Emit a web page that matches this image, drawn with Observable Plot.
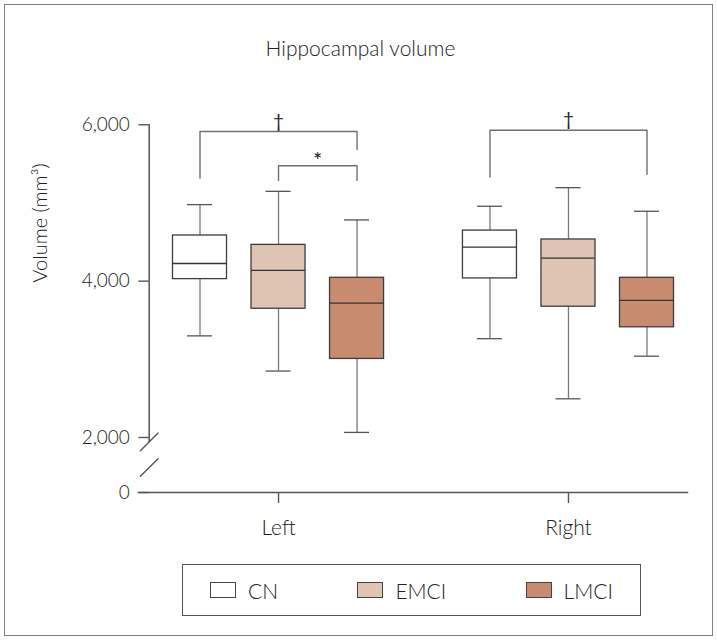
<!DOCTYPE html>
<html>
<head>
<meta charset="utf-8">
<script src="https://cdn.jsdelivr.net/npm/d3@7"></script>
<script src="https://cdn.jsdelivr.net/npm/@observablehq/plot@0.6"></script>
<style>
  body { margin: 0; background: #fff; }
  #wrap { position: relative; width: 717px; height: 641px; background: #fff; overflow: hidden;
          font-family: Lato, "Noto Sans", sans-serif; font-weight: 300; color: #222; }
  #border { position: absolute; left: 4px; top: 4px; width: 709px; height: 632px;
            border: 1.5px solid #808080; box-sizing: border-box; }
  #title { position: absolute; left: 2px; width: 717px; top: 35px; text-align: center;
           font-size: 21px; line-height: 25px; white-space: nowrap; }
  #chart { position: absolute; left: 0; top: 0; }
  #legend { position: absolute; left: 182px; top: 564px; width: 459px; height: 52px;
            border: 1.5px solid #555; box-sizing: border-box; display: flex;
            justify-content: space-between; align-items: center; padding: 0 27px 0 27px; }
  .item { display: flex; align-items: center; font-size: 21px; line-height: 25px; }
  .swatch { width: 26px; height: 16px; box-sizing: border-box; border: 1.2px solid #444; margin-right: 12px; }
</style>
</head>
<body>
<div id="wrap">
  <div id="border"></div>
  <div id="title">Hippocampal volume</div>
  <div id="chart"></div>
  <div id="legend"></div>
</div>
<script>
// ---- data ----
const sides = ["Left", "Right"];
const groups = ["CN", "EMCI", "LMCI"];
const groupColors = ["#ffffff", "#e0c4b3", "#c98b70"];
const yTicks = [0, 2000, 4000, 6000];

const leftMin    = [3300, 2850, 2065];
const leftQ1     = [4026, 3647, 3005];
const leftMedian = [4226, 4137, 3720];
const leftQ3     = [4584, 4464, 4043];
const leftMax    = [4979, 5149, 4783];

const rightMin    = [3264, 2495, 3040];
const rightQ1     = [4035, 3673, 3410];
const rightMedian = [4434, 4294, 3754];
const rightQ3     = [4647, 4533, 4043];
const rightMax    = [4958, 5196, 4894];

// significance brackets
const bracketSide    = ["Left", "Left", "Right"];
const bracketFrom    = ["CN", "EMCI", "CN"];
const bracketTo      = ["LMCI", "LMCI", "LMCI"];
const bracketTop     = [5914, 5477, 5931];
const bracketFromEnd = [5319, 5289, 5331];
const bracketToEnd   = [5685, 5289, 5366];
const bracketLabel   = ["†", "*", "†"];

// axis break marks (in y units, between 0 and 2,000)
const breakValues = [1840, 910];

// ---- build tables ----
const stats = {
  Left:  {min: leftMin,  q1: leftQ1,  median: leftMedian,  q3: leftQ3,  max: leftMax},
  Right: {min: rightMin, q1: rightQ1, median: rightMedian, q3: rightQ3, max: rightMax}
};
const boxes = [];
for (const side of sides) {
  groups.forEach((g, i) => {
    const s = stats[side];
    boxes.push({side, group: g, min: s.min[i], q1: s.q1[i], median: s.median[i], q3: s.q3[i], max: s.max[i]});
  });
}

const bracketPts = [];
const bracketTexts = [];
bracketSide.forEach((side, i) => {
  bracketPts.push({id: i, side, group: bracketFrom[i], y: bracketFromEnd[i]});
  bracketPts.push({id: i, side, group: bracketFrom[i], y: bracketTop[i]});
  bracketPts.push({id: i, side, group: bracketTo[i], y: bracketTop[i]});
  bracketPts.push({id: i, side, group: bracketTo[i], y: bracketToEnd[i]});
  const a = groups.indexOf(bracketFrom[i]), b = groups.indexOf(bracketTo[i]);
  bracketTexts.push({side, from: bracketFrom[i], span: b - a, mid: groups[(a + b) / 2] || null, y: bracketTop[i], label: bracketLabel[i]});
});

const breaks = breakValues.map(v => ({side: sides[0], y: v}));
const slash = {draw(context, l) { context.moveTo(0, 0); context.lineTo(0, -l); }};

const lineCol = "#555";
const chart = Plot.plot({
  width: 717,
  height: 560,
  marginTop: 124.3,
  marginBottom: 68,
  marginLeft: 148.7,
  marginRight: 19.7,
  facet: {marginTop: 0, marginBottom: 0, marginLeft: 0, marginRight: 0},
  fx: {domain: sides, paddingInner: 0.108, paddingOuter: 0, round: false},
  x: {domain: groups, paddingInner: 0.312, paddingOuter: 0.303, round: false, axis: null},
  y: {type: "linear", domain: [0, 2000, 6000], range: [492, 437, 124.3]},
  color: {domain: groups, range: groupColors},
  style: {fontFamily: 'Lato, "Noto Sans", sans-serif', fontWeight: 300, color: "#222",
          background: "transparent", overflow: "visible"},
  marks: [
    Plot.frame({anchor: "left", facet: "super", insetBottom: 51, stroke: lineCol, strokeWidth: 1.5}),
    Plot.frame({anchor: "bottom", facet: "super", insetLeft: -10.7, insetRight: 10.3, stroke: lineCol, strokeWidth: 1.5}),
    Plot.vector(breaks, {fx: "side", y: "y", frameAnchor: "left", length: 25, rotate: 45,
      anchor: "middle", shape: slash, stroke: lineCol, strokeWidth: 1.4}),
    Plot.axisY({ticks: yTicks, tickFormat: d3.format(","), tickSize: 10.3, tickPadding: 9,
      label: null, fontSize: 19, color: "#222", stroke: lineCol, strokeWidth: 1.4}),
    Plot.axisFx({anchor: "bottom", tickSize: 11, tickPadding: 17, label: null, fontSize: 21,
      color: "#222", stroke: lineCol, strokeWidth: 1.4}),
    Plot.text(["Volume (mm³)"], {text: d => d, facet: "super", frameAnchor: "left", rotate: -90,
      dx: -109, dy: -26, fontSize: 20, lineAnchor: "middle", fill: "#222"}),

    // whiskers
    Plot.ruleX(boxes, {fx: "side", x: "group", y1: "q3", y2: "max", stroke: "#7a7a7a", strokeWidth: 1.3}),
    Plot.ruleX(boxes, {fx: "side", x: "group", y1: "min", y2: "q1", stroke: "#7a7a7a", strokeWidth: 1.3}),
    Plot.tickY(boxes, {fx: "side", x: "group", y: "max", insetLeft: 14.5, insetRight: 14.5, stroke: "#555", strokeWidth: 1.3}),
    Plot.tickY(boxes, {fx: "side", x: "group", y: "min", insetLeft: 14.5, insetRight: 14.5, stroke: "#555", strokeWidth: 1.3}),
    // boxes
    Plot.barY(boxes, {fx: "side", x: "group", y1: "q1", y2: "q3", fill: "group", stroke: "#3d3d3d", strokeWidth: 1.3}),
    Plot.tickY(boxes, {fx: "side", x: "group", y: "median", stroke: "#333", strokeWidth: 1.3}),

    // brackets
    Plot.line(bracketPts, {fx: "side", x: "group", y: "y", z: "id", stroke: "#707070", strokeWidth: 1.4, curve: "linear"}),
    Plot.text(bracketTexts.filter(d => d.mid), {fx: "side", x: "mid", y: "y", text: "label",
      lineAnchor: "bottom", dy: -4, fontSize: 19, fontWeight: 400, fill: "#222"}),
    Plot.text(bracketTexts.filter(d => !d.mid), {fx: "side", x: "from", y: "y", text: "label",
      lineAnchor: "bottom", dx: 39.25, dy: 2, fontSize: 22, fontWeight: 400, fill: "#222"})
  ]
});
document.getElementById("chart").appendChild(chart);

// legend
const legend = document.getElementById("legend");
groups.forEach((g, i) => {
  const item = document.createElement("div");
  item.className = "item";
  const sw = document.createElement("div");
  sw.className = "swatch";
  sw.style.background = groupColors[i];
  const lab = document.createElement("span");
  lab.textContent = g;
  item.appendChild(sw);
  item.appendChild(lab);
  legend.appendChild(item);
});
</script>
</body>
</html>
